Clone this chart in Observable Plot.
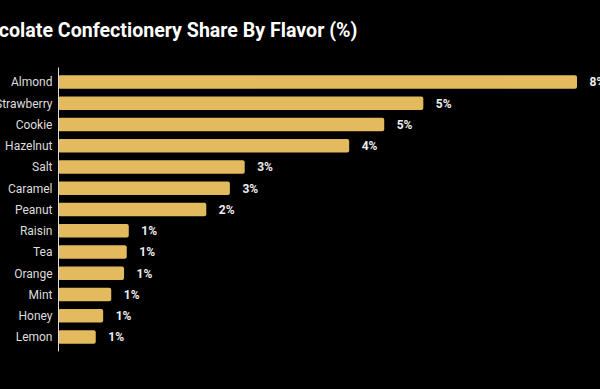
<!DOCTYPE html>
<html>
<head>
<meta charset="utf-8">
<script src="https://cdn.jsdelivr.net/npm/d3@7"></script>
<script src="https://cdn.jsdelivr.net/npm/@observablehq/plot@0.6"></script>
<style>
  html, body { margin: 0; padding: 0; background: #000; width: 600px; height: 389px; overflow: hidden; }
  #wrap { position: relative; width: 600px; height: 389px; }
  #title { position: absolute; z-index: 2; left: -36px; top: 20px; margin: 0; font-family: Roboto, sans-serif; font-weight: 700; font-size: 19.6px; line-height: 22px; color: #fff; white-space: nowrap; }
  #chart { position: absolute; z-index: 1; left: 0; top: 0; }
</style>
</head>
<body>
<div id="wrap">
  <div id="title">Chocolate Confectionery Share By Flavor (%)</div>
  <div id="chart"></div>
</div>
<script>
const flavors = ["Almond", "Strawberry", "Cookie", "Hazelnut", "Salt", "Caramel", "Peanut", "Raisin", "Tea", "Orange", "Mint", "Honey", "Lemon"];
const shares = [7.70, 5.42, 4.84, 4.32, 2.77, 2.55, 2.20, 1.05, 1.02, 0.98, 0.79, 0.67, 0.56];

const data = flavors.map((f, i) => ({flavor: f, share: shares[i]}));
const fmt = d => d3.format(".0f")(d) + "%";

const plot = Plot.plot({
  width: 600,
  height: 389,
  marginTop: 67.5,
  marginBottom: 37.6,
  marginLeft: 58,
  marginRight: 23,
  style: {background: "transparent", color: "#ddd", fontFamily: "Roboto, sans-serif", fontSize: "12px"},
  x: {axis: null, domain: [0, d3.max(shares)]},
  y: {domain: flavors, padding: 0.36, round: false, label: null, tickSize: 0, tickPadding: 6},
  marks: [
    Plot.barX(data, {x: "share", y: "flavor", fill: "#e3ba5e", rx: 2}),
    Plot.text(data, {x: "share", y: "flavor", text: d => fmt(d.share), textAnchor: "start", dx: 12, fill: "#eee", fontWeight: "bold", fontSize: 12}),
    Plot.ruleX([0], {stroke: "#ddd", strokeWidth: 1})
  ]
});
document.getElementById("chart").appendChild(plot);
</script>
</body>
</html>
